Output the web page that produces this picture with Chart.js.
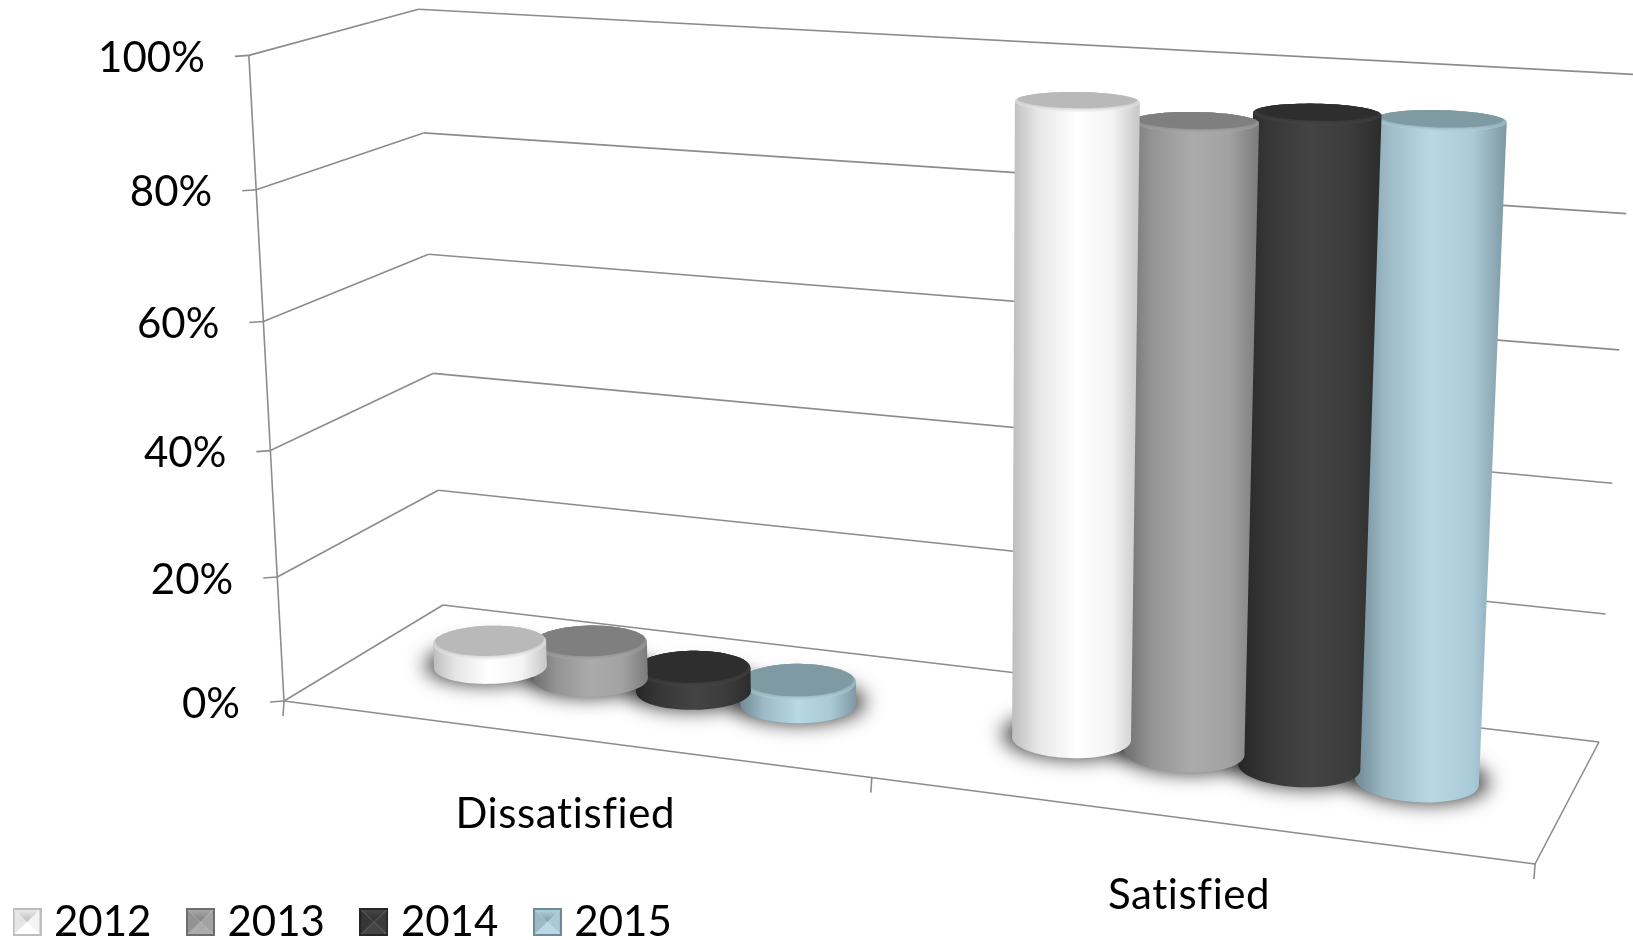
<!DOCTYPE html>
<html>
<head>
<meta charset="utf-8">
<style>
  html, body { margin: 0; padding: 0; background: #fff; overflow: hidden; }
  #wrap { width: 1633px; height: 940px; }
</style>
<script src="https://cdn.jsdelivr.net/npm/chart.js@4/dist/chart.umd.js"></script>
</head>
<body>
<div id="wrap"><canvas id="ctx"></canvas></div>
<script>
var categories = ['Dissatisfied', 'Satisfied'];
var years = ['2012', '2013', '2014', '2015'];
var values2012 = [4, 95.9];
var values2013 = [6, 94];
var values2014 = [3.8, 96.2];
var values2015 = [3.7, 96.3];
var percentTicks = [0, 20, 40, 60, 80, 100];

// side shading of each cylinder, left to right, then lid colour and rim colour
var shades = [
    { body: ['#bdbdbd', '#e6e6e6', '#ffffff', '#f4f4f4', '#c6c6c6'], lid: '#b9b9b9', rim: '#f2f2f2' },
    { body: ['#6e6e6e', '#939393', '#ababab', '#a2a2a2', '#7c7c7c'], lid: '#7f7f7f', rim: '#aeaeae' },
    { body: ['#262626', '#363636', '#444444', '#3c3c3c', '#2c2c2c'], lid: '#2e2e2e', rim: '#484848' },
    { body: ['#708a95', '#9cb9c5', '#b8d8e5', '#aac9d6', '#7d98a3'], lid: '#7f9aa3', rim: '#b8dbe8' }
];

var FONT = 'Lato';
var LINE = '#8c8c8c';

// camera: floor corners (u, depth) plus the top of the box fix a 3x4 projection
var floor = { fl: [284, 701], fr: [1535, 864], br: [1599, 742], bl: [443, 605] };
var anchors = [
    [0, 0, 1, 249, 54], [0, 1, 1, 418, 10], [1, 1, 1, 1633, 73],
    [1, 1, 0.8, 1627, 213], [0, 0, 0.6, 264, 320], [0, 1, 0.6, 428, 255]
];

function solve3(A, b) {
    var m = A.map(function (r, i) { return r.concat(b[i]); });
    for (var i = 0; i < 3; i++) {
        var p = i;
        for (var k = i + 1; k < 3; k++) if (Math.abs(m[k][i]) > Math.abs(m[p][i])) p = k;
        var t = m[i]; m[i] = m[p]; m[p] = t;
        for (var r = 0; r < 3; r++) {
            if (r === i) continue;
            var f = m[r][i] / m[i][i];
            for (var c = i; c < 4; c++) m[r][c] -= f * m[i][c];
        }
    }
    return [m[0][3] / m[0][0], m[1][3] / m[1][1], m[2][3] / m[2][2]];
}

function buildCamera() {
    var x0 = floor.fl[0], y0 = floor.fl[1], x1 = floor.fr[0], y1 = floor.fr[1];
    var x2 = floor.br[0], y2 = floor.br[1], x3 = floor.bl[0], y3 = floor.bl[1];
    var dx1 = x1 - x2, dx2 = x3 - x2, sx = x0 - x1 + x2 - x3;
    var dy1 = y1 - y2, dy2 = y3 - y2, sy = y0 - y1 + y2 - y3;
    var den = dx1 * dy2 - dx2 * dy1;
    var g = (sx * dy2 - dx2 * sy) / den, h = (dx1 * sy - sx * dy1) / den;
    var cam = {
        xu: x1 - x0 + g * x1, xd: x3 - x0 + h * x3, x1: x0,
        yu: y1 - y0 + g * y1, yd: y3 - y0 + h * y3, y1: y0,
        wu: g, wd: h
    };
    // least squares for the height column
    var rows = [], rhs = [];
    anchors.forEach(function (a) {
        var w = cam.wu * a[0] + cam.wd * a[1] + 1;
        rows.push([a[2], 0, -a[3] * a[2]]);
        rhs.push(a[3] * w - (cam.xu * a[0] + cam.xd * a[1] + cam.x1));
        rows.push([0, a[2], -a[4] * a[2]]);
        rhs.push(a[4] * w - (cam.yu * a[0] + cam.yd * a[1] + cam.y1));
    });
    var N = [[0, 0, 0], [0, 0, 0], [0, 0, 0]], v = [0, 0, 0];
    rows.forEach(function (r, n) {
        for (var i = 0; i < 3; i++) {
            v[i] += r[i] * rhs[n];
            for (var j = 0; j < 3; j++) N[i][j] += r[i] * r[j];
        }
    });
    var s = solve3(N, v);
    cam.xh = s[0]; cam.yh = s[1]; cam.wh = s[2];
    return cam;
}
var cam = buildCamera();

function project(u, d, h) {
    var w = cam.wu * u + cam.wd * d + cam.wh * h + 1;
    var x = (cam.xu * u + cam.xd * d + cam.xh * h + cam.x1) / w;
    var y = (cam.yu * u + cam.yd * d + cam.yh * h + cam.y1) / w;
    // the upper box rolls a little against the floor
    return [x, y + h * 3.2 * (1 - 2 * (x - 249) / 1384)];
}

var BAR_DEPTH = 0.5;   // bars stand half way back on the floor
var DEPTH_RATIO = 3.55; // one unit of u against one unit of depth

function circle(u, ru, h, scale) {
    var pts = [], rd = ru * DEPTH_RATIO * scale;
    for (var i = 0; i < 72; i++) {
        var t = i / 72 * Math.PI * 2;
        pts.push(project(u + ru * scale * Math.cos(t), BAR_DEPTH + rd * Math.sin(t), h));
    }
    return pts;
}

function tracePoly(ctx, pts) {
    ctx.beginPath();
    pts.forEach(function (p, i) { if (i) ctx.lineTo(p[0], p[1]); else ctx.moveTo(p[0], p[1]); });
    ctx.closePath();
}

function extremes(pts) {
    var lo = pts[0], hi = pts[0];
    pts.forEach(function (p) { if (p[0] < lo[0]) lo = p; if (p[0] > hi[0]) hi = p; });
    return [lo, hi];
}

function drawLine(ctx, a, b) {
    ctx.beginPath();
    ctx.moveTo(a[0], a[1]);
    ctx.lineTo(b[0], b[1]);
    ctx.stroke();
}

// unit position of a bar from the chart's own scales
function barGeometry(chart, bar) {
    var xs = chart.scales.x, ys = chart.scales.y;
    return {
        u: (bar.x - xs.left) / xs.width,
        ru: bar.width / 2 / xs.width,
        h: (ys.bottom - bar.y) / ys.height
    };
}

class CylinderController extends Chart.BarController {
    draw() {
        var ctx = this.chart.ctx, chart = this.chart, style = shades[this.index];
        this._cachedMeta.data.forEach(function (bar) {
            var g = barGeometry(chart, bar);
            var base = circle(g.u, g.ru, 0, 1);
            var top = circle(g.u, g.ru, g.h, 1);
            var bx = extremes(base), tx = extremes(top);
            var x0 = Math.min(bx[0][0], tx[0][0]), x1 = Math.max(bx[1][0], tx[1][0]);
            var grad = ctx.createLinearGradient(x0, 0, x1, 0);
            [0, 0.2, 0.5, 0.78, 1].forEach(function (s, i) { grad.addColorStop(s, style.body[i]); });
            ctx.save();
            ctx.fillStyle = grad;
            tracePoly(ctx, base); ctx.fill();
            tracePoly(ctx, [bx[0], tx[0], tx[1], bx[1]]); ctx.fill();
            // rounded top edge, then the soft lid pushed towards the back
            ctx.fillStyle = style.rim;
            tracePoly(ctx, top); ctx.fill();
            ctx.fillStyle = grad;
            ctx.globalAlpha = 0.55;
            tracePoly(ctx, top); ctx.fill();
            ctx.globalAlpha = 1;
            tracePoly(ctx, top); ctx.clip();
            ctx.fillStyle = style.lid;
            ctx.shadowColor = style.lid;
            ctx.shadowBlur = 5;
            tracePoly(ctx, circle(g.u, g.ru, g.h, 0.96).map(function (p) { return [p[0], p[1] - 3]; }));
            ctx.fill();
            ctx.restore();
        });
    }
}
CylinderController.id = 'cylinder';
CylinderController.defaults = Chart.BarController.defaults;
Chart.register(CylinderController);

var boxPlugin = {
    id: 'box',
    beforeDatasetsDraw: function (chart) {
        var ctx = chart.ctx, ys = chart.scales.y, xs = chart.scales.x;
        ctx.save();
        ctx.strokeStyle = LINE;
        ctx.lineWidth = 1.6;

        // walls and value labels
        ctx.font = '42px ' + FONT;
        ctx.fillStyle = '#000';
        ctx.textAlign = 'right';
        ctx.textBaseline = 'middle';
        ys.ticks.forEach(function (t) {
            var h = (ys.bottom - ys.getPixelForValue(t.value)) / ys.height;
            var a = project(0, 0, h), b = project(0, 1, h), c = project(1, 1, h);
            drawLine(ctx, a, b);
            drawLine(ctx, b, c);
            drawLine(ctx, a, [a[0] - 14, a[1] + 1]);
            ctx.fillText(t.label, a[0] - 44, a[1] + 3);
        });
        drawLine(ctx, project(0, 0, 0), project(0, 0, 1));

        // floor edges, separators and category labels
        drawLine(ctx, project(0, 0, 0), project(1, 0, 0));
        drawLine(ctx, project(1, 0, 0), project(1, 1, 0));
        [0, 0.5, 1].forEach(function (u) {
            var p = project(u, 0, 0);
            drawLine(ctx, p, [p[0] - 1, p[1] + 15]);
        });
        ctx.font = '42px ' + FONT;
        ctx.letterSpacing = '0.6px';
        ctx.textAlign = 'center';
        categories.forEach(function (name, i) {
            var u = (xs.getPixelForValue(i) - xs.left) / xs.width;
            var p = project(u, 0, 0);
            ctx.fillText(name, p[0] - 4, p[1] + 76);
        });

        // contact shadows go under every cylinder; the shape itself stays off canvas
        chart.getSortedVisibleDatasetMetas().forEach(function (meta) {
            meta.data.forEach(function (bar) {
                var g = barGeometry(chart, bar);
                var ring = circle(g.u, g.ru, 0, 1.16).map(function (p) { return [p[0] - 3000, p[1] - 3]; });
                ctx.save();
                ctx.fillStyle = '#000';
                ctx.shadowColor = 'rgba(0,0,0,0.78)';
                ctx.shadowOffsetX = 3000;
                ctx.shadowBlur = 20;
                tracePoly(ctx, ring);
                ctx.fill();
                ctx.restore();
            });
        });
        ctx.restore();
    }
};

// bevelled legend key
function makeKey(style) {
    var k = document.createElement('canvas');
    k.width = 29; k.height = 28;
    var c = k.getContext('2d');
    var tri = function (col, a, b, d) {
        c.fillStyle = col;
        c.beginPath();
        c.moveTo(a[0], a[1]); c.lineTo(b[0], b[1]); c.lineTo(d[0], d[1]);
        c.closePath();
        c.fill();
    };
    var m = [14.5, 14];
    tri(style.body[1], [0, 0], [0, 28], m);
    tri(style.body[3], [29, 0], [29, 28], m);
    tri(style.body[2], [0, 28], [29, 28], m);
    var top = c.createLinearGradient(0, 0, 0, 14);
    top.addColorStop(0, style.rim);
    top.addColorStop(1, style.lid);
    tri(top, [0, 0], [29, 0], m);
    c.strokeStyle = style.body[0];
    c.lineWidth = 2;
    c.strokeRect(1, 1, 27, 26);
    return k;
}

var seriesValues = [values2012, values2013, values2014, values2015];

new Chart(document.getElementById('ctx'), {
    type: 'cylinder',
    data: {
        labels: categories,
        datasets: years.map(function (y, i) {
            return {
                label: y,
                data: seriesValues[i],
                backgroundColor: shades[i].body[2],
                pointStyle: makeKey(shades[i]),
                categoryPercentage: 0.725,
                barPercentage: 1.02
            };
        })
    },
    options: {
        responsive: true,
        maintainAspectRatio: false,
        animation: false,
        layout: { padding: { left: -22, bottom: -13 } },
        scales: {
            x: { type: 'category', offset: true, display: false },
            y: {
                type: 'linear', display: false, min: 0, max: 100,
                afterBuildTicks: function (scale) {
                    scale.ticks = percentTicks.map(function (v) { return { value: v }; });
                },
                ticks: { callback: function (v) { return v + '%'; } }
            }
        },
        plugins: {
            tooltip: { enabled: false },
            legend: {
                position: 'bottom',
                align: 'start',
                onClick: null,
                labels: {
                    usePointStyle: true,
                    pointStyleWidth: 12,
                    boxHeight: 29,
                    padding: 43,
                    color: '#000',
                    font: { family: FONT, size: 42 }
                }
            }
        }
    },
    plugins: [boxPlugin]
});
</script>
</body>
</html>
